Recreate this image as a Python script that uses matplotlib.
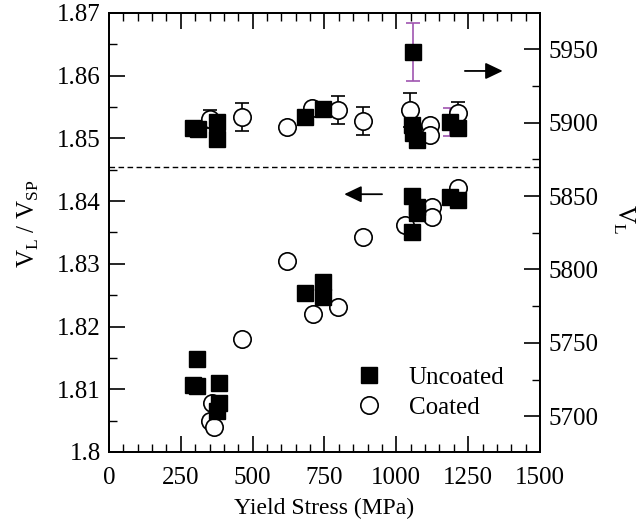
import matplotlib
matplotlib.use('Agg')
import matplotlib.pyplot as plt
from matplotlib.ticker import MultipleLocator, FormatStrFormatter

plt.rcParams['font.family'] = ['Liberation Serif', 'DejaVu Serif']
plt.rcParams['mathtext.fontset'] = 'custom'
plt.rcParams['mathtext.rm'] = 'Liberation Serif'

# lower group: ratio VL/VSP (left axis)
unc_x = [292, 306, 306, 383, 383, 376, 682, 745, 745, 1055, 1072, 1072, 1055, 1187, 1215]
unc_r = [1.8107, 1.8105, 1.8148, 1.8110, 1.8078, 1.8065, 1.8254, 1.8271, 1.8247,
         1.8408, 1.8391, 1.8381, 1.8351, 1.8407, 1.8402]
coat_x = [358, 352, 365, 463, 710, 797, 619, 884, 1030, 1124, 1124, 1215]
coat_r = [1.8078, 1.8049, 1.8040, 1.8180, 1.8220, 1.8231, 1.8305, 1.8343, 1.8362,
          1.8391, 1.8375, 1.8421]

# upper group: VL (right axis)
unc_vx = [292, 310, 376, 376, 682, 745, 1058, 1055, 1058, 1072, 1187, 1215]
unc_v = [5896.3, 5895.6, 5900.4, 5888.8, 5903.8, 5909.3, 5948.1, 5898.4, 5892.9,
         5888.1, 5900.4, 5896.3]
unc_verr = [0, 0, 0, 0, 0, 0, 20, 0, 0, 0, 9.5, 0]
coat_vx = [352, 463, 619, 707, 797, 884, 1048, 1117, 1117, 1215]
coat_v = [5902.5, 5903.8, 5897.0, 5910.0, 5908.6, 5901.1, 5908.8, 5898.4, 5891.6, 5906.5]
coat_verr = [6, 9.5, 0, 0, 9.5, 9.5, 11.6, 0, 0, 7.5]

divider = 1.8454
purple = '#a055b0'

fig = plt.figure(figsize=(6.41, 5.29), dpi=100)
ax = fig.add_axes([0.170, 0.1456, 0.6724, 0.8299])
ax2 = ax.twinx()

ms_sq, ms_ci = 12, 12.5

# upper VL data with error bars
for xv, yv, e in zip(coat_vx, coat_v, coat_verr):
    if e:
        ax2.errorbar(xv, yv, yerr=e, fmt='none', ecolor='black', elinewidth=1.2,
                     capsize=5, capthick=1.2, zorder=2)
ax2.plot(coat_vx, coat_v, 'o', ms=ms_ci, mfc='white', mec='black', mew=1.2, zorder=3)
for xv, yv, e in zip(unc_vx, unc_v, unc_verr):
    if e:
        ax2.errorbar(xv, yv, yerr=e, fmt='none', ecolor=purple, elinewidth=1.2,
                     capsize=5, capthick=1.2, zorder=2)
ax2.plot(unc_vx, unc_v, 's', ms=ms_sq, mfc='black', mec='black', zorder=4)

# lower ratio data
ax.plot(coat_x, coat_r, 'o', ms=ms_ci, mfc='white', mec='black', mew=1.2,
        label='Coated', zorder=3)
ax.plot(unc_x, unc_r, 's', ms=ms_sq, mfc='black', mec='black',
        label='Uncoated', zorder=4)
ax.axhline(divider, color='black', lw=1.0, ls=(0, (4, 2.5)))

ax.set_xlim(0, 1500)
ax.set_ylim(1.80, 1.87)
ax2.set_ylim(5675.7, 5974.7)

ax.xaxis.set_major_locator(MultipleLocator(250))
ax.xaxis.set_minor_locator(MultipleLocator(50))
ax.yaxis.set_major_locator(MultipleLocator(0.01))
ax.yaxis.set_minor_locator(MultipleLocator(0.005))
ax.yaxis.set_major_formatter(FormatStrFormatter('%g'))
ax2.yaxis.set_major_locator(MultipleLocator(50))
ax2.yaxis.set_minor_locator(MultipleLocator(25))

ax.tick_params(which='both', direction='in', top=True, right=False, labelsize=18)
ax.tick_params(which='major', length=11.5, width=1.2)
ax.tick_params(which='minor', length=5.5, width=1.0)
ax.tick_params(axis='x', which='major', pad=10.5)
ax.tick_params(axis='y', which='major', pad=6)
ax2.tick_params(which='both', direction='in', labelsize=18)
ax2.tick_params(which='major', length=11.5, width=1.2, pad=6)
ax2.tick_params(which='minor', length=5.5, width=1.0)
for a in (ax, ax2):
    for s in a.spines.values():
        s.set_linewidth(1.3)

ax.set_xlabel('Yield Stress (MPa)', fontsize=17, labelpad=7)
ax.set_ylabel(r'V$_\mathregular{L}$ / V$_\mathregular{SP}$', fontsize=18,
              va='center')
ax.yaxis.set_label_coords(-0.188, 0.52)
ax2.set_ylabel(r'V$_\mathregular{L}$', fontsize=18, rotation=270, va='center')
ax2.yaxis.set_label_coords(1.193, 0.53)

# direction arrows
arrow = dict(arrowstyle='-|>,head_length=1.05,head_width=0.5', color='black', lw=1.3)
ax2.annotate('', xy=(1380, 5935.2), xytext=(1229, 5935.2), arrowprops=arrow)
ax.annotate('', xy=(809, 1.8411), xytext=(960, 1.8411), arrowprops=arrow)

h, l = ax.get_legend_handles_labels()
ax.legend(h[::-1], l[::-1], loc='center left', bbox_to_anchor=(0.556, 0.135),
          frameon=False, fontsize=18, handletextpad=1.0, handlelength=1.2,
          labelspacing=0.32, borderpad=0.2, borderaxespad=0)

fig.savefig('out.png', dpi=100)
